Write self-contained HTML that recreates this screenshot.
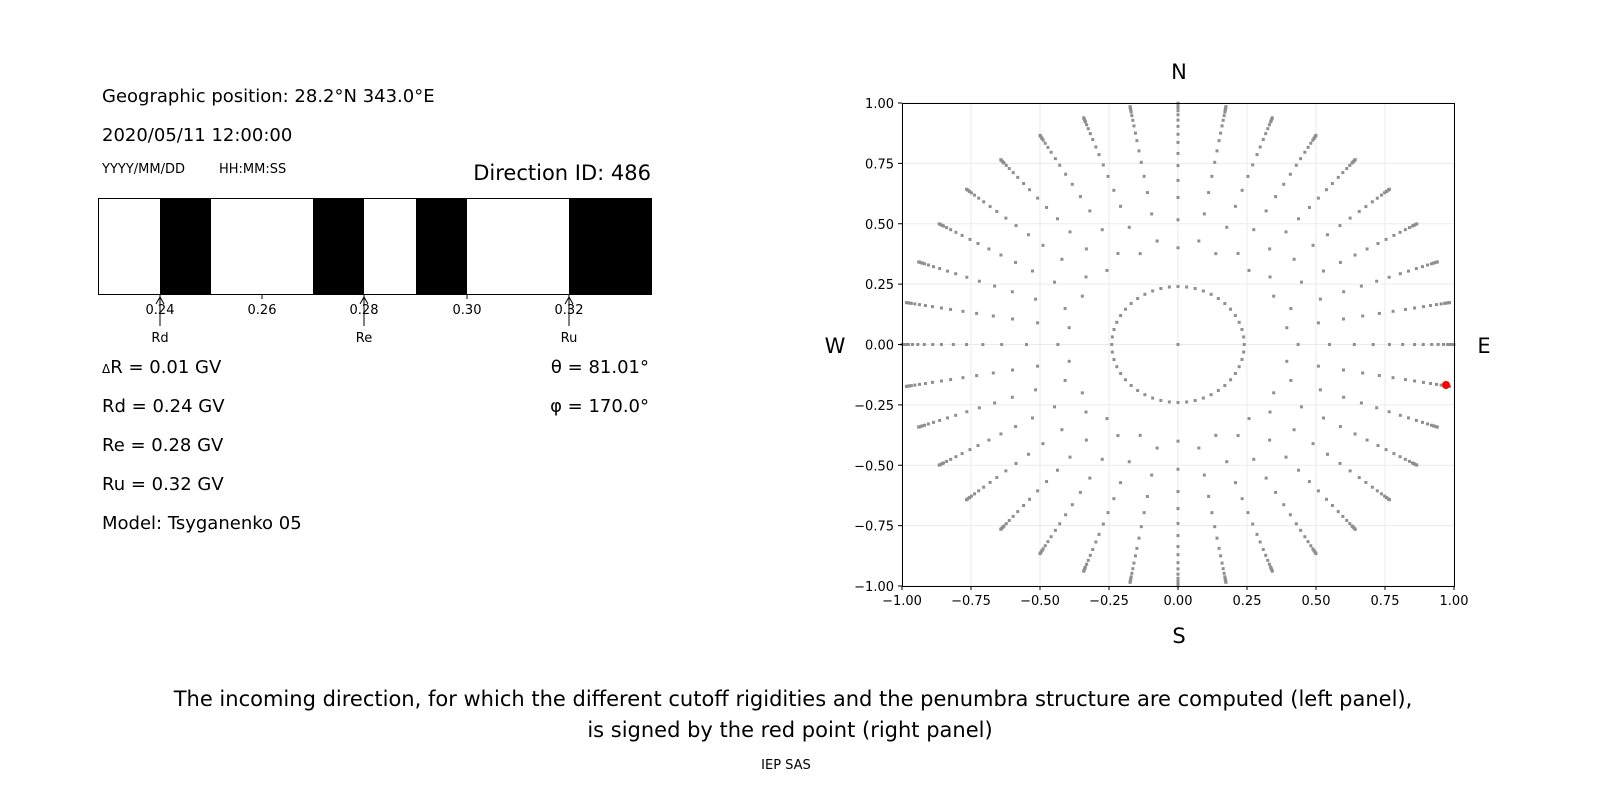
<!DOCTYPE html>
<html><head><meta charset="utf-8"><style>
body{margin:0;background:#fff;}
svg{display:block;font-family:"DejaVu Sans","Liberation Sans",sans-serif;}
</style></head><body>
<svg id="s" width="1600" height="800" xmlns="http://www.w3.org/2000/svg">
<rect width="1600" height="800" fill="#fff"/>
<text x="102" y="102" font-size="18">Geographic position: 28.2°N 343.0°E</text>
<text x="102" y="141" font-size="18">2020/05/11 12:00:00</text>
<text x="102" y="173" font-size="13">YYYY/MM/DD</text>
<text x="219" y="173" font-size="13">HH:MM:SS</text>
<text x="651" y="180" font-size="21" text-anchor="end">Direction ID: 486</text>
<rect x="98.5" y="198.5" width="553" height="96" fill="#fff" stroke="#000"/>
<rect x="160" y="198" width="51" height="96" fill="#000"/>
<rect x="313" y="198" width="51" height="96" fill="#000"/>
<rect x="416" y="198" width="51" height="96" fill="#000"/>
<rect x="569" y="198" width="82" height="96" fill="#000"/>
<g font-size="13" text-anchor="middle" stroke="#000">
<line x1="160" y1="294" x2="160" y2="299"/><line x1="262" y1="294" x2="262" y2="299"/><line x1="364" y1="294" x2="364" y2="299"/><line x1="467" y1="294" x2="467" y2="299"/><line x1="569" y1="294" x2="569" y2="299"/>
<line x1="160" y1="298" x2="160" y2="326"/><line x1="364" y1="298" x2="364" y2="326"/><line x1="569" y1="298" x2="569" y2="326"/>
<path d="M156,304 L160,297 L164,304 M360,304 L364,297 L368,304 M565,304 L569,297 L573,304" fill="none"/>
</g>
<g font-size="13" text-anchor="middle">
<text x="160" y="314">0.24</text><text x="262" y="314">0.26</text><text x="364" y="314">0.28</text><text x="467" y="314">0.30</text><text x="569" y="314">0.32</text>
<text x="160" y="342">Rd</text><text x="364" y="342">Re</text><text x="569" y="342">Ru</text>
</g>
<g font-size="18">
<text x="102" y="373"><tspan font-size="12">Δ</tspan>R = 0.01 GV</text>
<text x="102" y="412">Rd = 0.24 GV</text>
<text x="102" y="451">Re = 0.28 GV</text>
<text x="102" y="490">Ru = 0.32 GV</text>
<text x="102" y="529">Model: Tsyganenko 05</text>
<text x="649" y="373" text-anchor="end">θ = 81.01°</text>
<text x="649" y="412" text-anchor="end">φ = 170.0°</text>
</g>
<g id="grid" stroke="#ebebeb" stroke-width="1"></g>
<g id="dots" fill="#8f8f8f"></g>
<circle cx="1446" cy="385" r="4" fill="#f00"/>
<rect x="902.5" y="103.5" width="552" height="483" fill="none" stroke="#000"/>
<g id="ticks" font-size="13"></g>
<g font-size="21" text-anchor="middle">
<text x="1179" y="79">N</text><text x="1179" y="643">S</text>
<text x="835" y="353">W</text><text x="1484" y="353">E</text>
</g>
<g font-size="21" text-anchor="middle">
<text x="793" y="706">The incoming direction, for which the different cutoff rigidities and the penumbra structure are computed (left panel),</text>
<text x="790" y="737">is signed by the red point (right panel)</text>
</g>
<text x="786" y="769" font-size="13" text-anchor="middle">IEP SAS</text>
</svg>
<script>
var NS="http://www.w3.org/2000/svg";
function X(v){return 1178+v*276;}function Y(v){return 344.5-v*241.5;}
var g=document.getElementById('grid'),t=document.getElementById('ticks'),d=document.getElementById('dots');
function el(p,tag,a,txt){var e=document.createElementNS(NS,tag);for(var k in a)e.setAttribute(k,a[k]);if(txt)e.textContent=txt;p.appendChild(e);}
var lab=["−1.00","−0.75","−0.50","−0.25","0.00","0.25","0.50","0.75","1.00"];
for(var i=0;i<9;i++){var v=-1+i*0.25;
el(g,'line',{x1:X(v),x2:X(v),y1:103,y2:586});el(g,'line',{x1:902,x2:1454,y1:Y(v),y2:Y(v)});
el(t,'line',{x1:X(v),x2:X(v),y1:586,y2:590,stroke:'#000'});el(t,'line',{x1:898,x2:902,y1:Y(v),y2:Y(v),stroke:'#000'});
el(t,'text',{x:X(v),y:605,'text-anchor':'middle'},lab[i]);el(t,'text',{x:894,y:Y(v)+5,'text-anchor':'end'},lab[i]);}
function dot(x,y){el(d,'rect',{x:X(x)-1.5,y:Y(y)-1.5,width:3,height:3});}
dot(0,0);
for(var i=0;i<48;i++){var a=i*Math.PI*2/48;dot(0.24*Math.sin(a),0.24*Math.cos(a));}
var A=[12.9,23.6,31.1,37.5,42.8,47.8,52.3,56.8,60.5,64.6,68.3,72.0,75.5,78.8,81.9,84.8,87.5,90];
for(var r=0;r<36;r++){var a=r*Math.PI/18;
for(var j=1;j<A.length;j++){var th=A[j]+(r%2?2.2:0);if(th>90)th=90;var rr=Math.sin(th*Math.PI/180)*(j==A.length-1?0.985:1);
dot(rr*Math.sin(a),rr*Math.cos(a));}}
</script>
</body></html>
